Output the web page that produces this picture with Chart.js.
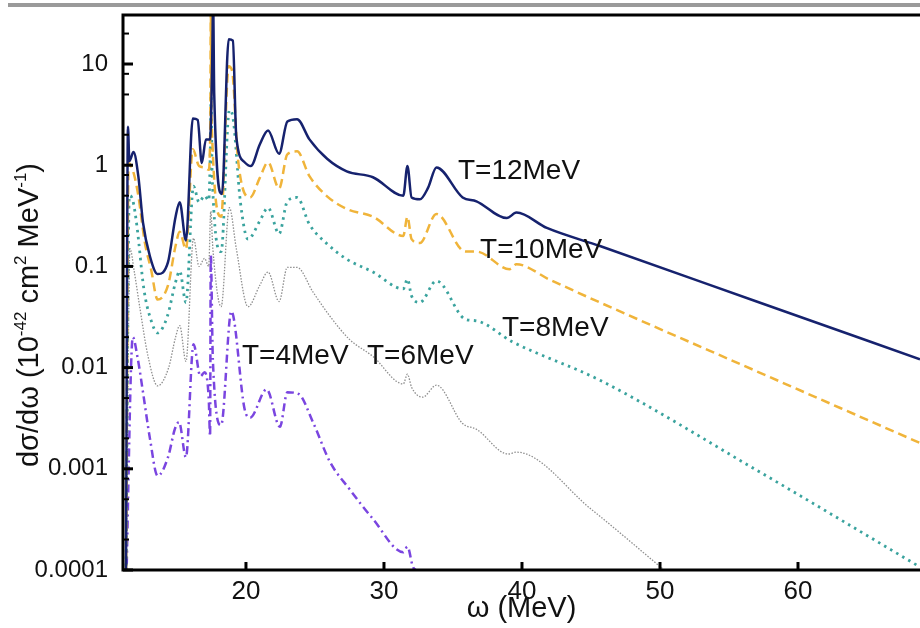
<!DOCTYPE html>
<html><head><meta charset="utf-8">
<script src="https://cdn.jsdelivr.net/npm/chart.js@4.4.1/dist/chart.umd.min.js"></script>
<style>
html,body{margin:0;padding:0;background:#fff;overflow:hidden}
#wrap{position:relative;width:920px;height:628px}
#bar{position:absolute;left:8px;top:3px;width:912px;height:4px;background:#9a9a9a}
canvas{position:absolute;left:0;top:0}
</style></head><body>
<div id="wrap"><canvas id="c" width="920" height="628"></canvas><div id="bar"></div></div>
<script>
// ---- data (omega in MeV, dsigma/domega in 1e-42 cm^2 MeV^-1) ----
const omega12 = [11.3,11.45,11.55,11.85,12.2,12.54,13.04,13.6,14.35,14.9,15.2,15.65,16.15,16.5,16.8,17.1,17.4,17.55,17.62,17.7,18.26,18.75,19.05,19.3,19.9,20.35,21.0,21.6,22.4,23.0,23.7,24.6,25.9,27.3,29.2,31.4,31.7,32.0,32.6,33.2,33.8,35.7,36.7,38.9,39.6,41.8,45.65,57.0,68.84];
const sigma12 = [5e-5,2.4,1.1,1.35,0.78,0.27,0.126,0.084,0.11,0.31,0.43,0.18,2.9,2.8,1.05,1.8,1.8,10,40,5,0.52,17.6,17,1.9,1.07,0.98,1.6,2.2,1.3,2.7,2.85,1.8,1.15,0.87,0.76,0.5,0.98,0.48,0.46,0.6,0.95,0.48,0.44,0.3,0.34,0.24,0.159,0.045,0.0121];

const omega10 = [11.3,11.5,11.65,11.9,12.2,12.68,13.12,13.6,14.35,14.9,15.2,15.65,16.15,16.6,17.0,17.3,17.42,17.45,17.5,18.2,18.75,19.0,19.42,20.3,21.0,21.6,22.4,23.0,23.7,24.6,25.9,27.3,29.2,31.4,31.7,32.0,32.6,33.8,35.9,36.7,39.1,39.6,42.0,45.65,57.0,68.84];
const sigma10 = [5e-5,1.05,1.0,0.8,0.5,0.17,0.094,0.047,0.065,0.16,0.22,0.148,1.44,0.98,0.95,0.9,3,40,3,0.31,9.5,8.5,1.15,0.48,0.75,1.07,0.59,1.28,1.37,0.78,0.49,0.37,0.31,0.2,0.31,0.186,0.17,0.33,0.14,0.14,0.094,0.105,0.074,0.044,0.0092,0.0018];

const omega8 = [11.3,11.55,11.8,12.1,12.6,13.1,13.6,14.3,14.9,15.2,15.65,16.2,16.6,17.0,17.3,17.42,17.47,17.55,18.2,18.8,19.05,19.6,20.15,21.0,21.6,22.4,23.0,23.7,24.6,25.9,27.3,29.2,31.4,31.7,32.0,32.6,33.8,35.9,36.7,39.3,45.65,57.0,68.84];
const sigma8 = [5e-5,0.5,0.45,0.25,0.06,0.03,0.022,0.032,0.07,0.09,0.044,0.62,0.43,0.5,0.45,1.5,5.3,0.8,0.14,3.5,3,0.43,0.186,0.28,0.38,0.21,0.44,0.48,0.26,0.166,0.118,0.088,0.06,0.075,0.051,0.044,0.072,0.030,0.029,0.018,0.0075,0.00097,0.000107];

const omega6 = [11.3,11.6,11.9,12.3,12.9,13.6,14.4,14.9,15.2,15.65,16.2,16.6,17.0,17.3,17.45,17.6,18.2,18.8,19.3,20.15,21.0,21.6,22.4,23.0,23.7,24.85,26.1,27.5,29.2,31.4,31.7,32.0,32.8,33.8,35.7,36.7,39.0,39.6,45.0,50.3];
const sigma6 = [5e-5,0.15,0.09,0.04,0.013,0.0066,0.01,0.02,0.026,0.0115,0.19,0.1,0.12,0.1,0.35,0.15,0.04,0.38,0.15,0.04,0.065,0.088,0.045,0.098,0.098,0.056,0.032,0.019,0.0129,0.0069,0.0086,0.0064,0.0051,0.0067,0.0028,0.00246,0.0014,0.00146,0.0004,0.0001];

const omega4 = [11.3,11.8,12.17,12.54,13.04,13.6,14.35,14.86,15.15,15.65,16.2,16.7,17.0,17.3,17.4,17.45,17.6,18.2,18.94,19.9,20.3,21.5,22.46,23.0,23.8,24.85,26.1,27.5,29.2,31.4,31.7,32.1,32.3];
const sigma4 = [5e-5,0.02,0.012,0.0057,0.002,0.00085,0.0013,0.0025,0.0029,0.0013,0.017,0.0082,0.009,0.005,0.0021,0.13,0.012,0.0027,0.036,0.0039,0.0032,0.0061,0.0026,0.0057,0.0055,0.0029,0.00116,0.00063,0.00032,0.00015,0.00017,0.000107,0.0001];

const xTicks = [20,30,40,50,60];
const xTickLabels = ['20','30','40','50','60'];
const yTicks = [1e-4,1e-3,1e-2,1e-1,1,10];
const yTickLabels = ['0.0001','0.001','0.01','0.1','1','10'];
const yMinorTicks = [2e-4,5e-4,8e-4,2e-3,5e-3,8e-3,2e-2,5e-2,8e-2,0.2,0.5,0.8,2,5,8,20];

const labelTexts = ['T=12MeV','T=10MeV','T=8MeV','T=4MeV','T=6MeV'];
const labelOmega = [35.36,36.96,38.55,19.71,28.77];
const labelSigma = [0.873,0.145,0.0245,0.013,0.013];

const FONT = '"Liberation Sans", Arial, Helvetica, sans-serif';

function pts(xs, ys){ return xs.map((x,i)=>({x:x, y:ys[i]})); }

const datasets = [
  {label:'T=12MeV', data:pts(omega12,sigma12), borderColor:'#16226e', borderWidth:2.5},
  {label:'T=10MeV', data:pts(omega10,sigma10), borderColor:'#f0b43a', borderWidth:2.5, borderDash:[9,5]},
  {label:'T=8MeV', data:pts(omega8,sigma8), borderColor:'#3aa39e', borderWidth:2.8, borderDash:[2.5,4.5]},
  {label:'T=6MeV', data:pts(omega6,sigma6), borderColor:'#8f8f8f', borderWidth:1.3, borderDash:[1.5,1.5]},
  {label:'T=4MeV', data:pts(omega4,sigma4), borderColor:'#7a45e0', borderWidth:2.5, borderDash:[8,4,2,4]}
].map(d=>Object.assign(d,{pointRadius:0, cubicInterpolationMode:'monotone', fill:false, clip:0}));

const decor = {
  id:'decor',
  afterDatasetsDraw(chart){
    const {ctx, chartArea:a, scales:{x,y}} = chart;
    ctx.save();
    ctx.strokeStyle = '#000';
    const seg=(x1,y1,x2,y2)=>{ctx.beginPath();ctx.moveTo(x1,y1);ctx.lineTo(x2,y2);ctx.stroke();};
    ctx.lineWidth = 2;
    yMinorTicks.forEach(v=>{const p=y.getPixelForValue(v); if(p>a.top+2&&p<a.bottom-2) seg(a.left,p,a.left+6,p);});
    ctx.lineWidth = 3;
    yTicks.forEach(v=>{const p=y.getPixelForValue(v); seg(a.left,p,a.left+10,p);});
    xTicks.forEach(v=>{const p=x.getPixelForValue(v); seg(p,a.bottom,p,a.bottom-8);});
    ctx.lineWidth = 3;
    ctx.beginPath();
    ctx.moveTo(a.right+3,a.top); ctx.lineTo(a.left,a.top); ctx.lineTo(a.left,a.bottom); ctx.lineTo(a.right+3,a.bottom);
    ctx.stroke();
    // curve labels
    ctx.fillStyle = '#111';
    ctx.font = '28px ' + FONT;
    ctx.textAlign = 'left'; ctx.textBaseline = 'middle';
    labelTexts.forEach((t,i)=>ctx.fillText(t, x.getPixelForValue(labelOmega[i]), y.getPixelForValue(labelSigma[i])));
    // y title with superscripts
    const segs = [['dσ/dω (10',0],['-42',1],[' cm',0],['2',1],[' MeV',0],['-1',1],[')',0]];
    const big = '29px ' + FONT, small = '17px ' + FONT;
    let total = 0;
    segs.forEach(s=>{ctx.font = s[1]?small:big; total += ctx.measureText(s[0]).width;});
    ctx.translate(30, 315);
    ctx.rotate(-Math.PI/2);
    ctx.textBaseline = 'middle';
    let cx = -total/2;
    segs.forEach(s=>{ctx.font = s[1]?small:big; ctx.fillText(s[0], cx, s[1]?-9:0); cx += ctx.measureText(s[0]).width;});
    ctx.restore();
  }
};

new Chart(document.getElementById('c').getContext('2d'), {
  type:'line',
  data:{datasets},
  options:{
    responsive:false, animation:false, devicePixelRatio:1,
    layout:{padding:{top:15,left:0,right:0,bottom:0}},
    plugins:{legend:{display:false}, tooltip:{enabled:false}},
    scales:{
      x:{type:'linear', min:11.09, max:68.84,
         grid:{display:false, drawTicks:false}, border:{display:false},
         afterBuildTicks:s=>{s.ticks = xTicks.map(v=>({value:v}));},
         afterFit:s=>{s.height = 58; s.paddingLeft = 0; s.paddingRight = 0;},
         ticks:{autoSkip:false, maxRotation:0, padding:6, color:'#111', font:{family:FONT, size:26},
                callback:(v,i)=>xTickLabels[i]},
         title:{display:true, text:'ω (MeV)', color:'#111', font:{family:FONT, size:29}, padding:{top:0,bottom:2}}},
      y:{type:'logarithmic', min:1e-4, max:30.5,
         grid:{display:false, drawTicks:false}, border:{display:false},
         afterBuildTicks:s=>{s.ticks = yTicks.map(v=>({value:v}));},
         afterFit:s=>{s.width = 123; s.paddingTop = 0; s.paddingBottom = 0;},
         ticks:{autoSkip:false, padding:15, color:'#111', font:{family:FONT, size:24},
                callback:(v,i)=>yTickLabels[i]}}
    }
  },
  plugins:[decor]
});
</script>
</body></html>
